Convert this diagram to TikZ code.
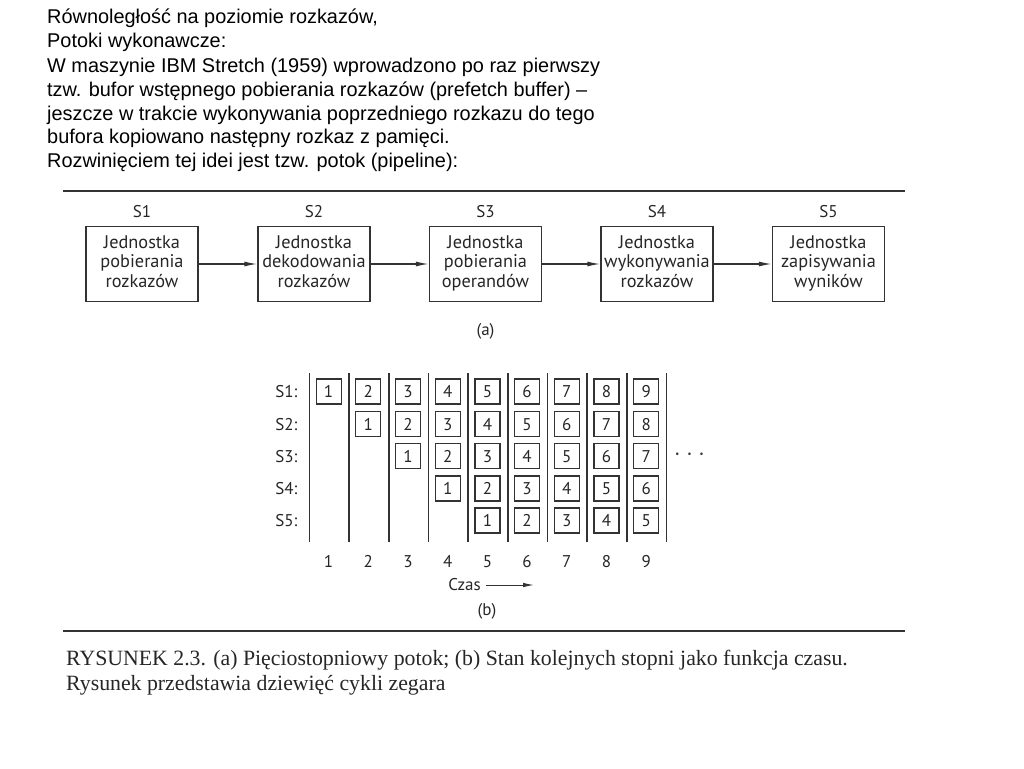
\documentclass[tikz,border=0pt]{standalone}
\usepackage{fontspec}
\setmainfont{Liberation Serif}
\newfontfamily\arialf{Liberation Sans}
\newfontfamily\figf{PT Sans}
\usetikzlibrary{arrows.meta}
\begin{document}
\begin{tikzpicture}[x=1pt,y=-1pt,
  ink/.style={draw=black!80, line width=1.3pt},
  unit/.style={ink, minimum width=112pt, minimum height=75pt, inner sep=0pt, align=center, text=black!85, font=\figf\fontsize{18.3}{19.4}\selectfont},
  stlabel/.style={font=\figf\fontsize{17}{20}\selectfont, text=black!85, text height=12pt, text depth=0pt},
  cell/.style={ink, line width=1.2pt, minimum width=25pt, minimum height=25pt, inner sep=0pt, font=\figf\fontsize{17}{20}\selectfont, text=black!85, text height=12pt, text depth=0pt},
  txt/.style={font=\figf\fontsize{17}{20}\selectfont, text=black!85},
  num/.style={txt, text height=12pt, text depth=0pt},
  headtxt/.style={anchor=base west, inner sep=0pt, font=\arialf\fontsize{19.9}{23.9}\selectfont},
  captxt/.style={anchor=base west, inner sep=0pt, font=\fontsize{21.8}{24}\selectfont, text=black!85},
  arr/.style={draw=black!80, line width=1.3pt, -{Latex[length=13pt,width=5pt]}},
  rulestyle/.style={draw=black!80, line width=2pt}
]
\useasboundingbox (0,0) rectangle (1024,768);
% heading text
\node[headtxt] (l1) at (47,24) {Równoległość na poziomie rozkazów,};
\node[headtxt] (l2) at (47,48) {Potoki wykonawcze:};
\node[headtxt] (l3) at (47,72) {W maszynie IBM Stretch (1959) wprowadzono po raz pierwszy};
\node[headtxt] (l4) at (47,96) {tzw. bufor wstępnego pobierania rozkazów (prefetch buffer) –};
\node[headtxt] (l5) at (47,120) {jeszcze w trakcie wykonywania poprzedniego rozkazu do tego};
\node[headtxt] (l6) at (47,143) {bufora kopiowano następny rozkaz z pamięci.};
\node[headtxt] (l7) at (47,167) {Rozwinięciem tej idei jest tzw. potok (pipeline):};
% rules
\draw[rulestyle] (63,191) -- (905,191);
\draw[rulestyle] (63,631) -- (905,631);
% (a)
\node[unit] (u1) at (142,264) {\strut Jednostka\\\strut pobierania\\\strut rozkazów};
\node[unit] (u2) at (314,264) {\strut Jednostka\\\strut dekodowania\\\strut rozkazów};
\node[unit] (u3) at (485.5,264) {\strut Jednostka\\\strut pobierania\\\strut operandów};
\node[unit] (u4) at (657,264) {\strut Jednostka\\\strut wykonywania\\\strut rozkazów};
\node[unit] (u5) at (828.5,264) {\strut Jednostka\\\strut zapisywania\\\strut wyników};
\foreach \i in {1,...,5}{ \node[stlabel] (s\i) at ([yshift=14pt]u\i.north) {S\i}; }
\foreach \i/\j in {1/2,2/3,3/4,4/5}{ \draw[arr] (u\i) -- (u\j); }
\node[txt] (capa) at (485.5,331) {(a)};
% (b)
\foreach \k in {0,...,9}{ \draw[ink, line width=1.6pt] (309.3+39.7*\k,373) -- (309.3+39.7*\k,542); }
\foreach \r/\y in {1/391.5,2/424,3/456.3,4/488.5,5/520.5}{
  \node[num, anchor=east] (rl\r) at (301,\y) {S\r:};
  \foreach \t in {1,...,9}{
    \ifnum\t<\r\else
      \pgfmathtruncatemacro{\v}{\t-\r+1}
      \node[cell] (c\r-\t) at (309.3+39.7*\t-20.4,\y) {\v};
    \fi
  }
}
\foreach \t in {1,...,9}{ \node[num] (tn\t) at (309.3+39.7*\t-20.4,561) {\t}; }
\node[font=\fontsize{24}{24}\selectfont, text=black!80, inner sep=0pt] (dots) at (689.5,455) {$\cdot$\hspace{5.3pt}$\cdot$\hspace{5.3pt}$\cdot$};
\node[txt, anchor=east, inner sep=0pt] (czas) at (481,585) {Czas};
\coordinate (czasend) at (534,585);
\draw[draw=black!80, line width=1pt, -{Latex[length=11pt,width=4.5pt]}] (czas.east) ++(5pt,0) -- (czasend);
\node[txt] (capb) at (487,611) {(b)};
% caption
\node[captxt] (c1) at (66,665) {RYSUNEK 2.3. (a) Pięciostopniowy potok; (b) Stan kolejnych stopni jako funkcja czasu.};
\node[captxt] (c2) at (66,690) {Rysunek przedstawia dziewięć cykli zegara};
\end{tikzpicture}
\end{document}
